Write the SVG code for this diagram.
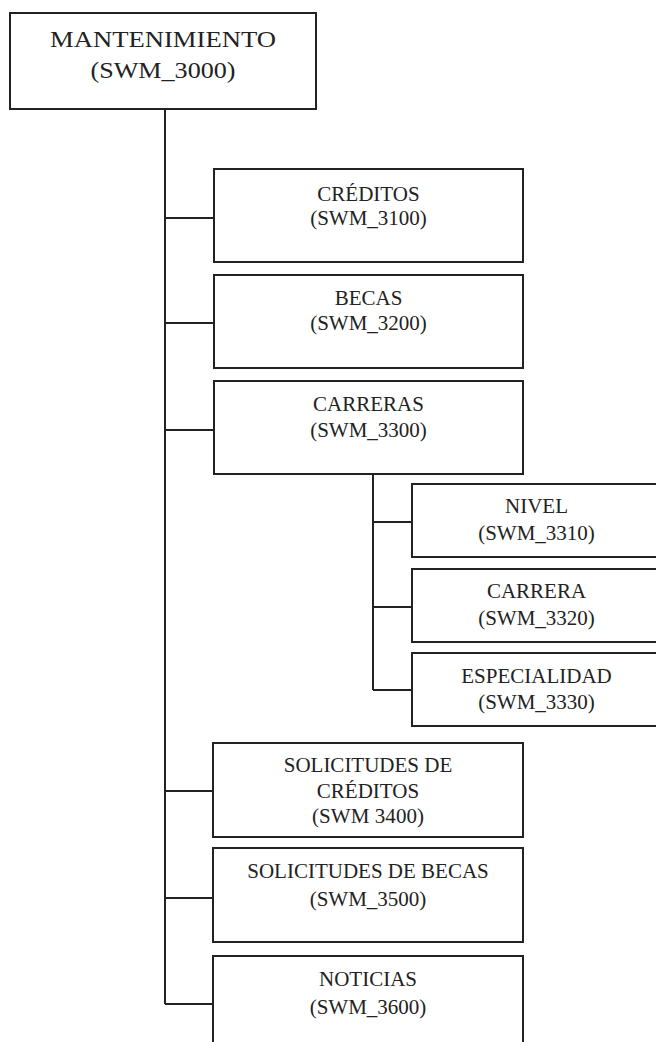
<svg xmlns="http://www.w3.org/2000/svg" width="656" height="1042" viewBox="0 0 656 1042">
<style>
.box{fill:#fff;stroke:#222;stroke-width:2}
.ln{fill:none;stroke:#222;stroke-width:2}
.t{font-family:"Liberation Serif","Times New Roman",serif;font-size:21px;fill:#222;text-anchor:middle}
.big{font-size:24px}
</style>
<rect width="656" height="1042" fill="#fff"/>
<g id="connectors">
<path class="ln" d="M165 109V1004"/>
<path class="ln" d="M165 218H214M165 323H214M165 430H214M165 791H213M165 898H213M165 1004H213"/>
<path class="ln" d="M373 474V690M373 522H412M373 607H412M373 690H412"/>
</g>
<g id="n3000">
<rect class="box" x="10" y="13" width="306" height="96"/>
<text class="t big" x="163" y="47" textLength="226" lengthAdjust="spacingAndGlyphs">MANTENIMIENTO</text>
<text class="t big" x="163" y="78" textLength="145" lengthAdjust="spacingAndGlyphs">(SWM_3000)</text>
</g>
<g id="n3100">
<rect class="box" x="214" y="169" width="309" height="93"/>
<text class="t" x="368.5" y="201">CRÉDITOS</text>
<text class="t" x="368.5" y="225">(SWM_3100)</text>
</g>
<g id="n3200">
<rect class="box" x="214" y="275" width="309" height="93"/>
<text class="t" x="368.5" y="305">BECAS</text>
<text class="t" x="368.5" y="330">(SWM_3200)</text>
</g>
<g id="n3300">
<rect class="box" x="214" y="381" width="309" height="93"/>
<text class="t" x="368.5" y="411">CARRERAS</text>
<text class="t" x="368.5" y="437">(SWM_3300)</text>
</g>
<g id="n3310">
<rect class="box" x="412" y="484" width="250" height="73"/>
<text class="t" x="536.5" y="513">NIVEL</text>
<text class="t" x="536.5" y="540">(SWM_3310)</text>
</g>
<g id="n3320">
<rect class="box" x="412" y="569" width="250" height="73"/>
<text class="t" x="536.5" y="598">CARRERA</text>
<text class="t" x="536.5" y="625">(SWM_3320)</text>
</g>
<g id="n3330">
<rect class="box" x="412" y="653" width="250" height="73"/>
<text class="t" x="536.5" y="683">ESPECIALIDAD</text>
<text class="t" x="536.5" y="709">(SWM_3330)</text>
</g>
<g id="n3400">
<rect class="box" x="213" y="743" width="310" height="94"/>
<text class="t" x="368" y="772">SOLICITUDES DE</text>
<text class="t" x="368" y="798">CRÉDITOS</text>
<text class="t" x="368" y="823" textLength="112" lengthAdjust="spacing">(SWM 3400)</text>
</g>
<g id="n3500">
<rect class="box" x="213" y="848" width="310" height="94"/>
<text class="t" x="368" y="878">SOLICITUDES DE BECAS</text>
<text class="t" x="368" y="906">(SWM_3500)</text>
</g>
<g id="n3600">
<rect class="box" x="213" y="956" width="310" height="94"/>
<text class="t" x="368" y="986">NOTICIAS</text>
<text class="t" x="368" y="1014">(SWM_3600)</text>
</g>
</svg>
